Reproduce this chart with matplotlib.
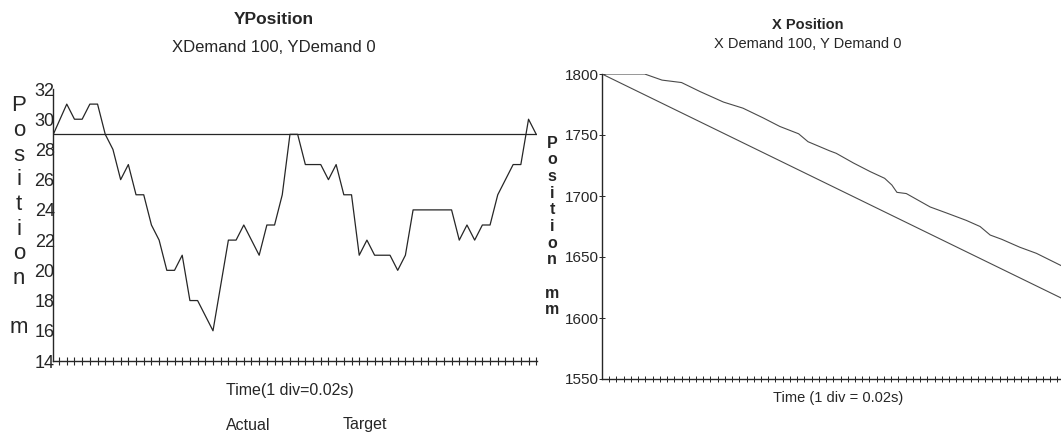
import numpy as np
import matplotlib.pyplot as plt

# Y position trace (mm), one sample per time division; first sample sits on the axis
y_actual = [29, 31, 30, 30, 31, 31, 29, 28, 26, 27, 25, 25, 23, 22, 20, 20, 21, 18, 18, 17,
            16, 19, 22, 22, 23, 22, 21, 23, 23, 25, 29, 29, 27, 27, 27, 26, 27, 25, 25, 21,
            22, 21, 21, 21, 20, 21, 24, 24, 24, 24, 24, 24, 22, 23, 22, 23, 23, 25, 26, 27,
            27, 30, 29]
y_target_t = [-0.75, 62]
y_target = [29, 29]
y_ticks = [14, 16, 18, 20, 22, 24, 26, 28, 30, 32]

# X position trace (mm) against time divisions
x_actual_t = [0, 5.9, 8.3, 11.0, 13.6, 16.8, 19.5, 22.3, 24.6, 27.2, 28.5, 31.5, 32.4, 34.8,
              37.1, 39.1, 40.1, 40.8, 42.1, 45.4, 47.7, 50.4, 52.3, 53.7, 55.3, 57.8, 60.1, 63.5]
x_actual = [1800, 1800, 1795, 1793, 1785.5, 1777, 1772, 1764, 1757, 1751, 1744.5, 1737, 1735,
            1727, 1720, 1714.5, 1709, 1703, 1702, 1691, 1686, 1680, 1675, 1668, 1664.5, 1658,
            1653, 1643]
x_target_t = [0, 64]
x_target = [1800, 1615]
x_ticks = [1550, 1600, 1650, 1700, 1750, 1800]

ink = '#262626'
soft = '#4a4a4a'
narrow = ['Liberation Sans Narrow', 'Liberation Sans', 'DejaVu Sans']
plain = ['Liberation Sans', 'DejaVu Sans']

fig = plt.figure(figsize=(10.61, 4.38), dpi=100)
fig.patch.set_facecolor('white')


def style_axes(ax):
    for side in ('top', 'right'):
        ax.spines[side].set_visible(False)
    for side in ('left', 'bottom'):
        ax.spines[side].set_color(ink)
        ax.spines[side].set_linewidth(1.0)
    ax.set_facecolor('none')


def stacked_label(text, x, y0, step, size, family, weight='normal'):
    # vertical axis title written one letter per line
    for i, ch in enumerate(text):
        fig.text(x / 1061, 1 - (y0 + i * step) / 438, ch, ha='center', va='center',
                 fontsize=size, family=family, color=ink, fontweight=weight)


# ---- left panel: Y position ----
ax1 = fig.add_axes([53.3 / 1061, (438 - 361) / 438, 483.7 / 1061, 272 / 438])
style_axes(ax1)
t1 = np.r_[-0.75, np.arange(1, len(y_actual))]
ax1.plot(t1, y_actual, color=ink, lw=0.9)
ax1.plot(y_target_t, y_target, color=ink, lw=0.9)
ax1.set_xlim(-0.75, 62.1)
ax1.set_ylim(14, 32)
ax1.set_xticks(np.arange(0, 63))
ax1.set_xticklabels([])
ax1.tick_params(axis='x', direction='inout', length=6, width=0.8, color=ink)
ax1.set_yticks(y_ticks)
ax1.set_yticklabels([str(v) for v in y_ticks], family=narrow, fontsize=13, color=ink)
ax1.tick_params(axis='y', length=0, pad=-1)

fig.text(274 / 1061, 1 - 19 / 438, 'YPosition', ha='center', va='center',
         fontsize=12.5, fontweight='bold', family=narrow, color=ink)
fig.text(274 / 1061, 1 - 47 / 438, 'XDemand 100, YDemand 0', ha='center', va='center',
         fontsize=12, family=narrow, color=ink)
fig.text(290 / 1061, 1 - 391 / 438, 'Time(1 div=0.02s)', ha='center', va='center',
         fontsize=11.5, family=narrow, color=ink)
fig.text(248 / 1061, 1 - 425 / 438, 'Actual', ha='center', va='center',
         fontsize=11.5, family=narrow, color=ink)
fig.text(365 / 1061, 1 - 424 / 438, 'Target', ha='center', va='center',
         fontsize=11.5, family=narrow, color=ink)
stacked_label('Position m', 19, 106, 24.6, 16, plain)

# ---- right panel: X position ----
ax2 = fig.add_axes([602 / 1061, (438 - 379) / 438, 506 / 1061, 305 / 438])
style_axes(ax2)
ax2.plot(x_actual_t, x_actual, color=soft, lw=0.8)
ax2.plot(x_target_t, x_target, color=soft, lw=0.8)
ax2.set_xlim(0, 70)
ax2.set_ylim(1550, 1800)
ax2.set_xticks(np.arange(1, 71))
ax2.set_xticklabels([])
ax2.tick_params(axis='x', direction='inout', length=5, width=0.7, color=ink)
ax2.set_yticks(x_ticks)
ax2.set_yticklabels([str(v) for v in x_ticks], family=plain, fontsize=11, color=ink)
ax2.tick_params(axis='y', direction='inout', length=4, width=0.7, color=ink, pad=0)

fig.text(808 / 1061, 1 - 25 / 438, 'X Position', ha='center', va='center',
         fontsize=10.5, fontweight='bold', family=plain, color=ink)
fig.text(808 / 1061, 1 - 44 / 438, 'X Demand 100, Y Demand 0', ha='center', va='center',
         fontsize=10.5, family=plain, color=ink)
fig.text(838 / 1061, 1 - 398 / 438, 'Time (1 div = 0.02s)', ha='center', va='center',
         fontsize=10.5, family=plain, color=ink)
stacked_label('Position mm', 552, 143, 16.7, 11.5, plain, weight='bold')

fig.savefig('out.png', dpi=100, facecolor='white')
